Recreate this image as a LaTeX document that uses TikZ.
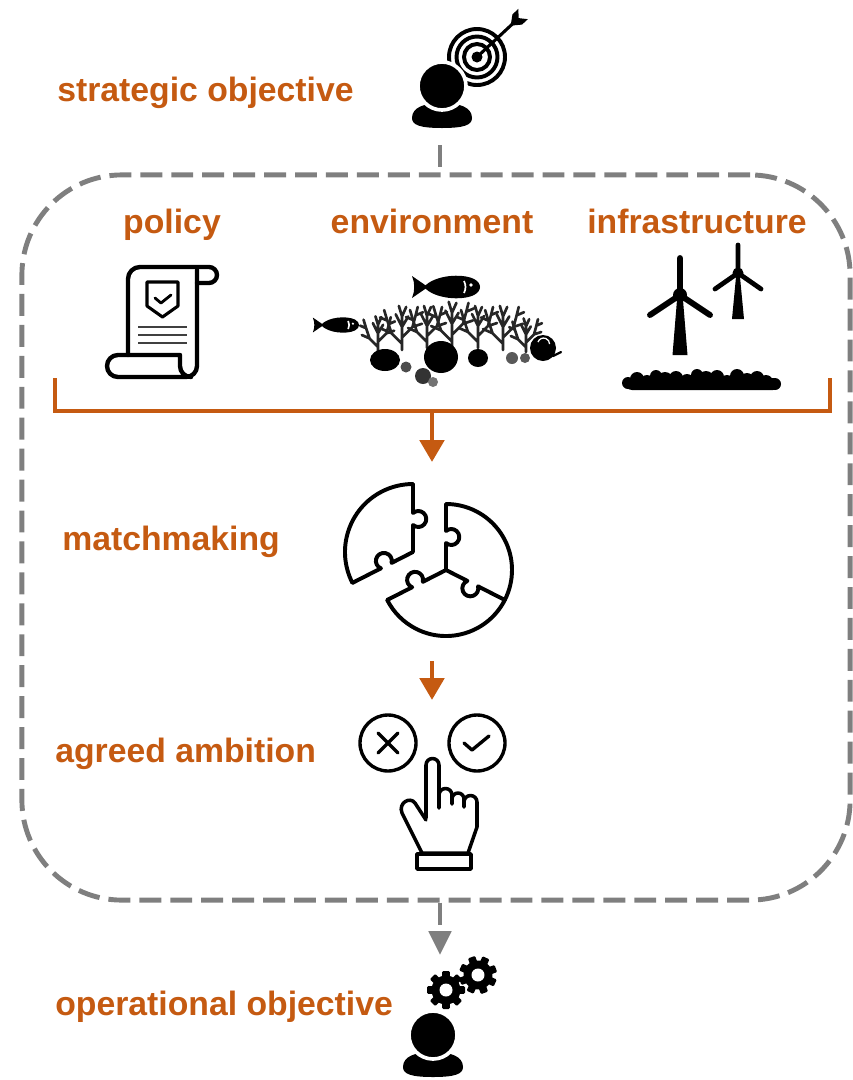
\documentclass[tikz,border=0pt]{standalone}
\usepackage{fontspec}
\setmainfont{Liberation Sans}
\usetikzlibrary{arrows.meta}
\definecolor{accent}{HTML}{C55A11}
\definecolor{framegrey}{HTML}{7F7F7F}

% one puzzle edge: start point, direction (y-down degrees), length, knob position, knob side
\newcommand\pzedge[5]{%
  \begin{scope}[shift={#1},rotate=-#2]
    \draw[puzzle] (0,0) -- ({#4-6},0)
      arc[start angle={180+41.4*#5}, delta angle={-262.8*#5}, radius=8] -- (#3,0);
  \end{scope}}

\tikzset{
  label/.style={text=accent, font=\fontsize{24}{28}\selectfont\bfseries, inner sep=0pt},
  frame/.style={draw=framegrey, line width=3.5pt, dash pattern=on 15.6pt off 6.4pt,
    rounded corners=2.5cm, minimum width=20.7cm, minimum height=18.125cm, inner sep=0pt},
  link/.style={draw=framegrey, line width=3.5pt, dash pattern=on 15.6pt off 6.4pt},
  flow/.style={draw=accent, line width=3.5pt, -{Triangle[length=15.5pt,width=17pt]}},
  icon/.style={line width=2.6pt, line cap=round, line join=round},
  puzzle/.style={line width=2.8pt, line cap=round, line join=round},
  person/.pic={
    \fill (-30,32) .. controls (-30,21) and (-17,17) .. (0,17)
      .. controls (17,17) and (30,21) .. (30,32)
      .. controls (30,39) and (22,42) .. (0,42)
      .. controls (-22,42) and (-30,39) .. (-30,32) -- cycle;
    \fill[draw=white, line width=2.6pt] (0,0) circle (24);
  },
  gear/.pic={
    \foreach \a in {0,45,...,315}
      \fill[rotate=\a, rounded corners=0.8pt] (-3.8,-19) rectangle (3.8,-9);
    \fill (0,0) circle (14.5);
    \fill[white] (0,0) circle (6.5);
  },
  fish/.pic={
    \fill (-24,0) -- (-40,-11) .. controls (-37,-4) and (-37,4) .. (-40,11) -- cycle;
    \fill (-28,0) .. controls (-18,-12) and (10,-14) .. (22,-8)
      .. controls (30,-4) and (30,4) .. (22,8)
      .. controls (10,14) and (-18,12) .. (-28,0) -- cycle;
    \draw[white, line width=1.2pt] (12,-6) .. controls (14,-2) and (14,2) .. (12,6);
    \fill[white] (19,-2) circle (1.8);
  },
  coral/.pic={
    \draw[black!85, line width=1.9pt, line cap=round, line join=round] (0,0) -- (0,-32)
      (0,-6) -- (-10,-16) -- (-14,-28) -- (-17,-38)
      (-10,-16) -- (-19,-20) (-14,-28) -- (-21,-31)
      (0,-12) -- (10,-22) -- (13,-33) -- (15,-41)
      (10,-22) -- (19,-25) (13,-33) -- (20,-36)
      (0,-22) -- (-6,-34) (0,-22) -- (6,-32)
      (0,-32) -- (-3,-42) (0,-32) -- (4,-41);
  }
}

\begin{document}
\begin{tikzpicture}[x=0.025cm,y=-0.025cm]
\useasboundingbox (0,0) rectangle (853,1080);

% ---------- labels ----------
\node[label, anchor=base west] (lstrat) at (57,101) {strategic objective};
\node[label, anchor=base] (lpol) at (172,233) {policy};
\node[label, anchor=base] (lenv) at (432,233) {environment};
\node[label, anchor=base] (linf) at (697,233) {infrastructure};
\node[label, anchor=base west] (lmatch) at (62,550) {matchmaking};
\node[label, anchor=base west] (lagree) at (55,762) {agreed ambition};
\node[label, anchor=base west] (loper) at (55,1015) {operational objective};

% ---------- strategic objective: person with target ----------
\begin{scope}[shift={(477,57)}]
  \draw[line width=2.8pt] (0,0) circle (28) (0,0) circle (20.5) (0,0) circle (13);
  \fill (0,0) circle (5.5);
\end{scope}
\begin{scope}[shift={(477,57)}, rotate=43]
  \draw[line width=2.2pt, line cap=round] (1,0) -- (50,0);
  \fill (46,0) -- (55,-7) -- (63,-7) -- (57,0) -- (63,7) -- (55,7) -- cycle;
\end{scope}
\pic at (442,86) {person};
\coordinate (stratout) at (440,145);

% ---------- dashed frame ----------
\node[frame] (box) at (436,537.5) {};
\draw[link] (stratout) -- (stratout |- box.north);

% ---------- policy: scroll with shield ----------
\begin{scope}[icon, line width=3.1pt]
  \draw (128,355) -- (128,279) arc[start angle=180, end angle=270, radius=12]
        -- (209,267) arc[start angle=-90, end angle=90, radius=8] -- (197,283);
  \draw (197,270) -- (197,366) arc[start angle=0, end angle=90, radius=11] -- (118,377)
        arc[start angle=90, end angle=270, radius=11] -- (180,355) -- (180,366)
        arc[start angle=180, end angle=90, radius=11];
\end{scope}
\draw[icon, line width=2.2pt] (147,282) -- (178,282) -- (178,306) -- (162.5,317) -- (147,306) -- cycle;
\draw[icon, line width=2pt] (155,298) -- (161,303) -- (171,295);
\draw[line width=2.1pt, black!75] (138,327) -- (187,327) (138,335) -- (187,335) (138,343) -- (187,343);

% ---------- environment: fish and coral ----------
\pic at (452,287) {fish};
\pic[scale=0.68] at (340,325) {fish};
\pic[scale=0.85] at (378,352) {coral};
\pic[scale=1.05] at (402,350) {coral};
\pic[scale=1.0] at (427,348) {coral};
\pic[scale=1.1] at (452,348) {coral};
\pic[scale=1.0] at (478,348) {coral};
\pic[scale=1.05] at (503,350) {coral};
\pic[scale=0.8] at (526,352) {coral};
\fill (385,360) ellipse (15 and 11);
\fill (441,357) ellipse (17 and 16);
\fill (478,358) ellipse (10 and 9);
\fill[black!70] (406,367) circle (5.5);
\fill[black!80] (423,376) circle (8);
\fill[black!55] (433,382) circle (5);
\fill[black!65] (512,358) circle (6);
\fill[black!65] (525,358) circle (5);
\fill (543,348) circle (13);
\draw[white, line width=0.9pt] (538,342) arc[start angle=200, end angle=360, radius=6];
\draw[line width=1.6pt, line cap=round] (553,356) -- (561,352);

% ---------- infrastructure: wind turbines ----------
\draw[line width=4.2pt, line cap=round] (680,295) -- (680,258) (680,295) -- (650,315) (680,295) -- (710,315);
\fill (680,295) circle (7);
\fill (677,300) -- (683,300) -- (687.5,355) -- (672.5,355) -- cycle;
\draw[line width=3.4pt, line cap=round] (738,273) -- (738,245) (738,273) -- (715,289) (738,273) -- (761,289);
\fill (738,273) circle (5.5);
\fill (736,277) -- (740,277) -- (744,319) -- (732,319) -- cycle;
\fill[rounded corners=5] (625,378) rectangle (780,390);
\foreach \x/\y/\r in {628/383/6, 637/379/7, 647/382/7, 656/376/6, 665/380/8, 676/378/7,
  687/381/7, 697/375/6, 706/379/8, 717/377/7, 727/382/7, 737/376/7, 747/380/7, 757/378/7,
  766/382/7, 775/384/6}
  \fill (\x,\y) circle (\r);

% ---------- bracket and flow to matchmaking ----------
\coordinate (brl) at (55,378);
\coordinate (brr) at (830,378);
\coordinate (brm) at (432,411);
\coordinate (puztop) at (432,462);
\draw[accent, line width=3.5pt] (brl) -- ++(0,33) -| (brr);
\draw[flow] (brm) -- (puztop);

% ---------- matchmaking: three puzzle pieces ----------
\draw[puzzle] (446,504) arc[start angle=-90, end angle=27, radius=66];
\pzedge{(446,570)}{27}{66}{30}{1}
\pzedge{(446,570)}{-90}{66}{33}{1}
\draw[puzzle] (446,570) ++(27:66) arc[start angle=27, end angle=153, radius=66];
\pzedge{(446,570)}{153}{66}{32}{1}
\draw[puzzle] (413,552) ++(153:68) arc[start angle=153, end angle=270, radius=68];
\pzedge{(413,552)}{-90}{68}{33}{1}
\pzedge{(413,552)}{153}{68}{30}{1}

\coordinate (puzbot) at (432,661);
\coordinate (choicetop) at (432,700);
\draw[flow] (puzbot) -- (choicetop);

% ---------- agreed ambition: choice with pointing hand ----------
\draw[icon, line width=2.4pt] (388,743) circle (28);
\draw[icon, line width=2.4pt] (378,733) -- (398,753) (398,733) -- (378,753);
\draw[icon, line width=2.4pt] (477,743) circle (28);
\draw[icon, line width=2.4pt] (464,743) -- (472,750) -- (489,736);
\begin{scope}[icon, line width=2.5pt]
  \draw (426,818) -- (426,765) arc[start angle=180, end angle=360, radius=6.5] -- (439,808);
  \draw (439,795) arc[start angle=180, end angle=360, radius=6.5] -- (452,804);
  \draw (452,799) arc[start angle=180, end angle=360, radius=6] -- (464,807);
  \draw (464,802) arc[start angle=180, end angle=360, radius=6.5] -- (477,827) -- (468,853)
        -- (422,853) -- (402,813) .. controls (398,803) and (410,796) .. (415,803) -- (426,820);
  \draw (417,854) rectangle (471,869);
\end{scope}

% ---------- operational objective: person with gears ----------
\coordinate (operin) at (440,955);
\draw[link, -{Triangle[length=17pt,width=15.6pt]}, framegrey] (box.south -| operin) -- (operin);
\pic at (446,990) {gear};
\pic[rotate=20] at (478,975) {gear};
\pic at (433,1035) {person};
\end{tikzpicture}
\end{document}
